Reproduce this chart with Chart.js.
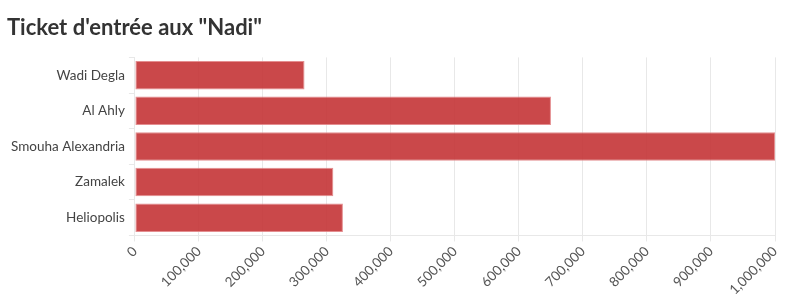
<!DOCTYPE html>
<html>
<head>
<meta charset="utf-8">
<script src="https://cdn.jsdelivr.net/npm/chart.js@4"></script>
<style>
  html, body { margin: 0; padding: 0; background: #fff; }
  #wrap { width: 796px; height: 308px; }
</style>
</head>
<body>
<div id="wrap"><canvas id="myChart" width="796" height="308"></canvas></div>
<script>
// données du graphique
const clubs = ['Wadi Degla', 'Al Ahly', 'Smouha Alexandria', 'Zamalek', 'Heliopolis'];
const tickets = [265000, 650000, 1000000, 310000, 325000];
const xTicks = [0, 100000, 200000, 300000, 400000, 500000, 600000, 700000, 800000, 900000, 1000000];

const ctx = document.getElementById('myChart').getContext('2d');

new Chart(ctx, {
  type: 'bar',
  data: {
    labels: clubs,
    datasets: [{
      label: 'Ticket',
      data: tickets,
      backgroundColor: 'rgba(196, 52, 54, 0.9)',
      borderColor: 'rgba(225, 130, 132, 0.9)',
      borderWidth: 1,
      borderSkipped: false,
      barPercentage: 0.8,
      categoryPercentage: 1
    }]
  },
  options: {
    indexAxis: 'y',
    responsive: false,
    animation: false,
    layout: {
      padding: { left: 7, right: 21, top: 3, bottom: 8 }
    },
    plugins: {
      legend: { display: false },
      tooltip: { enabled: false },
      title: {
        display: true,
        text: 'Ticket d\'entrée aux "Nadi"',
        align: 'start',
        color: '#333333',
        font: { family: 'Lato', size: 22, weight: 'bold' },
        padding: { top: 12, bottom: 16 }
      }
    },
    scales: {
      x: {
        min: 0,
        max: 1000000,
        afterBuildTicks: axis => { axis.ticks = xTicks.map(v => ({ value: v })); },
        ticks: {
          color: '#555555',
          font: { family: 'Lato', size: 13.5 },
          minRotation: 45,
          maxRotation: 45,
          padding: 2,
          callback: v => v.toLocaleString('en-US')
        },
        grid: {
          color: '#e8e8e8',
          tickLength: 6
        },
        border: { color: '#e8e8e8' }
      },
      y: {
        ticks: {
          color: '#444444',
          font: { family: 'Lato', size: 13.5 },
          padding: 4
        },
        grid: {
          drawOnChartArea: false,
          color: '#e8e8e8',
          tickLength: 6
        },
        border: { display: false }
      }
    }
  }
});
</script>
</body>
</html>
